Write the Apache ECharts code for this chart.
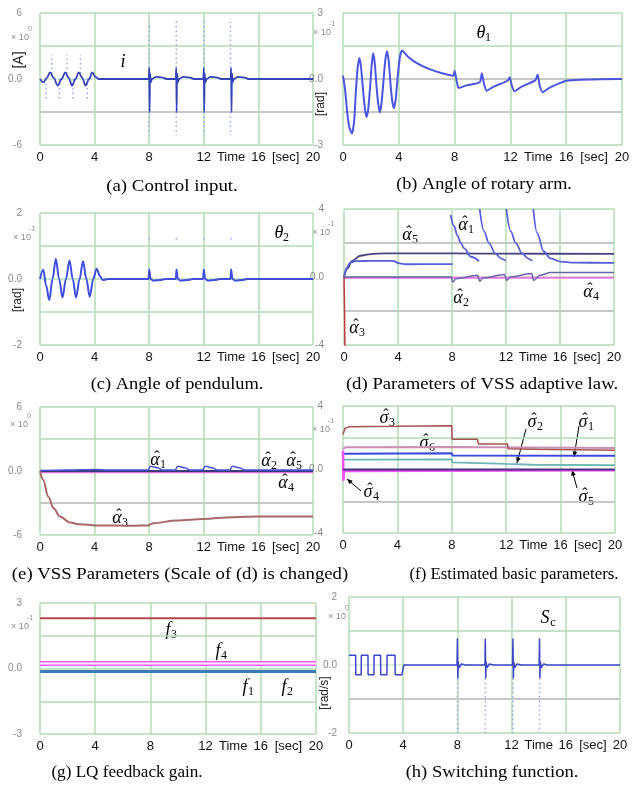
<!DOCTYPE html>
<html>
<head>
<meta charset="utf-8">
<script src="https://cdn.jsdelivr.net/npm/echarts@6/dist/echarts.min.js"></script>
<style>
  html, body { margin: 0; background: #fff; }
  #chart { width: 634px; height: 789px; }
</style>
</head>
<body>
<div id="chart"></div>
<script>
// x ticks (shared by every panel)
const xLabelAt = [0, 4, 8, 12, 14, 16, 18, 20]
const xLabelText = ['0', '4', '8', '12', 'Time', '16', '[sec]', '20']

// y range of each panel (a..h) and the exponent of the "x10" label
const yMax = [6, 3, 2, 4, 6, 4, 3, 2]
const yExp = ['0', '-1', '-1', '-1', '0', '-1', '-1', '0']

// (a) control input i
const iMain = [[0,0],[0.25,-0.3],[0.5,0.1],[0.74,0.6],[1.0,0.1],[1.3,-0.6],[1.58,0],[1.85,0.6],[2.1,0.1],[2.35,-0.6],[2.6,0],[2.84,0.6],[3.1,0.1],[3.33,-0.6],[3.6,0],[3.83,0.6],[4.05,0.2],[4.3,0],
  [7.97,0],[8.0,1.0],[8.03,-3.0],[8.06,0.5],[8.12,-0.3],[8.2,0],[8.5,0.2],[8.9,0.15],[9.3,0],
  [9.95,0],[9.98,1.0],[10.01,-3.0],[10.04,0.5],[10.1,-0.3],[10.18,0],[10.5,0.2],[10.9,0.15],[11.3,0],
  [11.97,0],[12.0,1.0],[12.03,-3.0],[12.06,0.5],[12.12,-0.3],[12.2,0],[12.5,0.2],[12.9,0.15],[13.3,0],
  [13.97,0],[14.0,1.0],[14.03,-3.0],[14.06,0.5],[14.12,-0.3],[14.2,0],[14.5,0.2],[14.9,0.15],[15.3,0],[20,0]]
const iSpikes = [[0.44,0],[0.44,-2.0],[0.44,'-'],[0.86,0.5],[0.86,2.2],[0.86,'-'],[1.43,0],[1.43,-2.0],[1.43,'-'],
  [1.98,0.5],[1.98,2.2],[1.98,'-'],[2.42,0],[2.42,-2.0],[2.42,'-'],[2.96,0.5],[2.96,2.2],[2.96,'-'],[3.46,0],[3.46,-2.0],[3.46,'-'],
  [8,1],[8,5.2],[8,'-'],[8,-3],[8,-5.1],[8,'-'],[9.98,1],[9.98,5.2],[9.98,'-'],[9.98,-3],[9.98,-5.1],[9.98,'-'],
  [12,1],[12,5.2],[12,'-'],[12,-3],[12,-5.1],[12,'-'],[13.95,1],[13.95,5.2],[13.95,'-'],[13.95,-3],[13.95,-5.1]]

// (b) rotary arm angle theta1
const theta1 = [[0,0.15],[0.15,-0.5],[0.3,-1.5],[0.45,-2.2],[0.64,-2.48],[0.8,-1.9],[0.92,-0.6],[1.05,0.5],[1.18,0.96],[1.3,0.5],
  [1.45,-0.6],[1.58,-1.4],[1.7,-1.72],[1.82,-1.3],[1.95,-0.3],[2.05,0.6],[2.16,1.17],[2.28,0.7],[2.4,-0.3],[2.52,-1.1],[2.64,-1.52],
  [2.76,-1.1],[2.9,-0.1],[3.02,0.8],[3.15,1.26],[3.28,0.8],[3.4,-0.2],[3.53,-1.0],[3.65,-1.32],[3.78,-0.9],[3.92,0.1],[4.08,1.0],
  [4.24,1.29],[4.4,1.2],[4.6,1.05],[5.2,0.76],[6.16,0.46],[7.1,0.26],[7.9,0.15],
  [8.0,0.38],[8.15,-0.1],[8.3,-0.41],[8.8,-0.3],[9.8,-0.15],[9.95,0.26],[10.1,-0.2],[10.3,-0.53],[10.8,-0.35],[11.8,-0.08],[11.95,0.08],
  [12.1,-0.3],[12.3,-0.56],[12.8,-0.35],[13.8,-0.05],[13.95,0.2],[14.1,-0.3],[14.3,-0.6],[14.8,-0.4],[15.5,-0.2],[16,-0.08],[17,-0.03],[20,0]]

// (c) pendulum angle theta2
const theta2 = [[0,0],[0.24,0.28],[0.45,-0.2],[0.68,-0.64],[0.92,0],[1.16,0.61],[1.4,0],[1.65,-0.56],[1.9,0],[2.16,0.56],[2.4,0],
  [2.64,-0.56],[2.9,0],[3.15,0.54],[3.4,0],[3.64,-0.54],[3.9,0],[4.15,0.31],[4.4,0.08],[4.6,-0.03],[5,0],
  [7.95,0],[8.0,0.29],[8.1,0],[8.3,-0.05],[8.8,-0.03],[9.2,0],[9.95,0],[10.0,0.29],[10.1,0],[10.3,-0.05],[10.8,-0.03],[11.2,0],
  [11.95,0],[12.0,0.29],[12.1,0],[12.3,-0.05],[12.8,-0.03],[13.2,0],[13.95,0],[14.0,0.29],[14.1,0],[14.3,-0.05],[14.8,-0.03],[15.2,0],[20,0]]
const theta2Dots = [[8,1.22],[10,1.22],[12,1.22],[14,1.22]]

// (d) VSS adaptive law parameters
const alpha5D = [[0,0],[0.25,0.5],[0.6,0.95],[1.2,1.25],[2,1.35],[3,1.39],[8,1.39],[12,1.37],[20,1.36]]
const alpha1D = [[0,0],[0.2,0.55],[0.45,0.85],[0.9,0.93],[2,0.95],[3.6,0.95],[4.1,0.8],[4.6,0.75],[8.05,0.76],[8.05,'-'],
  [7.9,3.65],[8.15,3.0],[8.4,2.44],[8.65,2.0],[8.9,1.68],[9.4,1.19],[10.0,0.93],[10.0,'-'],
  [10.05,4.0],[10.37,2.7],[10.74,1.99],[11.2,1.39],[11.6,1.1],[11.98,0.95],[11.98,'-'],
  [12.02,4.0],[12.35,2.7],[12.72,1.99],[13.2,1.39],[13.6,1.1],[13.95,0.95],[13.95,'-'],
  [14.02,4.0],[14.3,2.6],[14.8,1.5],[15.3,1.1],[16.05,0.9],[17,0.84],[20,0.83]]
const alpha2D = [[0,0],[7.95,0],[8.05,-0.3],[8.3,-0.1],[9.9,0.1],[10.05,-0.25],[10.3,-0.05],[11.9,0.15],[12.05,-0.2],[12.3,0],
  [13.9,0.2],[14.05,-0.2],[14.5,0.1],[15.3,0.26],[20,0.26]]
const alpha4D = [[0,-0.05],[20,-0.05]]
const alpha3D = [[0,0],[0.04,-2],[0.07,-4.5]]

// (e) same parameters, larger scale
const alpha3E = [[0,0],[0.24,-0.84],[0.6,-2.4],[1,-3.5],[1.46,-4.27],[2.2,-4.83],[2.9,-5.0],[4.1,-5.1],[6.8,-5.14],[7.9,-5.1],[8.3,-4.9],
  [10,-4.64],[12,-4.49],[14.1,-4.33],[15.9,-4.27],[20,-4.27]]
const alpha1E = [[0,0.05],[2,0.1],[4,0.15],[5,0.1],[7.9,0.1],[8.1,0.45],[8.6,0.3],[9,0.1],[9.9,0.1],[10.1,0.45],[10.6,0.3],[11,0.1],
  [11.9,0.1],[12.1,0.45],[12.6,0.3],[13,0.1],[13.9,0.1],[14.1,0.45],[14.6,0.3],[15,0.1],[20,0.1]]
const alpha25E = [[0,0],[20,0]]
const alpha4E = [[0,-0.12],[20,-0.12]]

// (f) estimated basic parameters
const sigma3F = [[0,2.2],[0.15,2.6],[0.5,2.7],[4,2.72],[8,2.75],[8.02,1.9],[9.9,1.9],[9.95,1.6],[12.1,1.6],[12.15,1.3],[14,1.28],[14.05,1.22],[20,1.22]]
const sigma6F = [[0,1.3],[0.2,1.4],[8,1.42],[8.02,1.35],[20,1.35]]
const sigma1F = [[0,1.0],[8,1.02],[8.05,0.88],[20,0.86]]
const sigma2F = [[0,0.62],[8,0.64],[8.05,0.45],[12,0.35],[14,0.3],[20,0.28]]
const sigma5F = [[0,0],[20,0]]
const sigma4F = [[0,1.2],[0.03,-0.7],[0.08,-0.1],[0.2,-0.05],[20,-0.05]]

// (g) LQ feedback gains
const f3G = [[0,2.3],[20,2.3]]
const f4G = [[0,0.23],[20,0.23]]
const f1G = [[0,-0.14],[20,-0.14]]
const f2G = [[0,-0.11],[20,-0.11]]

// (h) switching function
const scMain = [[0,0.29],[0.49,0.29],[0.5,-0.29],[0.9,-0.29],[0.91,0.29],[1.4,0.29],[1.41,-0.29],[1.84,-0.29],[1.85,0.29],[2.33,0.29],
  [2.34,-0.29],[2.8,-0.29],[2.81,0.29],[3.4,0.29],[3.41,-0.29],[3.9,-0.29],[4.05,0],
  [7.97,0],[8.0,0.78],[8.03,-0.39],[8.06,0.1],[8.12,-0.08],[8.3,0.03],[8.6,0],
  [10.03,0],[10.06,0.78],[10.09,-0.39],[10.12,0.1],[10.18,-0.08],[10.36,0.03],[10.66,0],
  [12.07,0],[12.1,0.78],[12.13,-0.39],[12.16,0.1],[12.22,-0.08],[12.4,0.03],[12.7,0],
  [14.03,0],[14.06,0.78],[14.09,-0.39],[14.12,0.1],[14.18,-0.08],[14.36,0.03],[14.66,0],[20,0]]
const scSpikes = [[8,-0.39],[8,-2],[8,'-'],[10.06,-0.39],[10.06,-2],[10.06,'-'],[12.1,-0.39],[12.1,-2],[12.1,'-'],[14.06,-0.39],[14.06,-2]]

const G = '#b3dbb3', Y = '#b4b4b4', T = '#d8e8d8'
const BLUE = '#3e4fe0', LIGHT = '#9aa6f2'

// grid boxes in pixels, y split line colours (bottom to top)
const panels = [
  { box: [40, 13, 273, 132], lines: [G, Y, T, G, G], lab: 18 },
  { box: [343, 13, 279, 132], lines: [G, Y, Y, G, G], lab: 20 },
  { box: [40, 213, 273, 132], lines: [G, G, G, G, G], lab: 18 },
  { box: [344, 209, 270, 136], lines: [G, Y, T, Y, G], lab: 20 },
  { box: [40, 407, 273, 128], lines: [G, Y, T, G, G], lab: 18 },
  { box: [343, 406, 272, 127], lines: [G, Y, T, G, G], lab: 20 },
  { box: [40, 603, 276, 131], lines: [G, G, G, G, G], lab: 18 },
  { box: [349, 597, 271, 136], lines: [G, Y, T, G, G], lab: 12 },
]

const grid = [], xAxis = [], yAxis = []
panels.forEach((p, k) => {
  const m = yMax[k]
  grid.push({ left: p.box[0], top: p.box[1], width: p.box[2], height: p.box[3] })
  // axis that carries the labels (every 2 s)
  xAxis.push({
    gridIndex: k, type: 'value', min: 0, max: 20, interval: 2,
    axisLine: { show: false }, axisTick: { show: false }, splitLine: { show: false },
    axisLabel: {
      margin: 6, color: '#111', fontSize: 13, fontFamily: 'Liberation Sans Narrow, Liberation Sans',
      formatter: v => { const j = xLabelAt.indexOf(v); return j < 0 ? '' : xLabelText[j] },
    },
  })
  // axis that carries the grid (every 4 s)
  xAxis.push({
    gridIndex: k, type: 'value', min: 0, max: 20, interval: 4,
    axisLine: { show: false }, axisTick: { show: false }, axisLabel: { show: false },
    splitLine: { show: true, lineStyle: { color: G, width: 1.5 } },
  })
  yAxis.push({
    gridIndex: k, type: 'value', min: -m, max: m, interval: m / 2,
    axisLine: { show: false }, axisTick: { show: false },
    splitLine: { show: true, lineStyle: { color: p.lines, width: 1.5 } },
    axisLabel: {
      margin: p.lab, color: '#8a8a8a', fontSize: 10, fontFamily: 'Liberation Sans',
      formatter: v => v === m ? String(m) : v === 0 ? '0.0' : v === -m ? '-' + m : '',
    },
  })
})

function line(k, data, color, width, extra) {
  return Object.assign({
    type: 'line', xAxisIndex: 2 * k + 1, yAxisIndex: k, data, showSymbol: false, symbol: 'none',
    lineStyle: { color, width }, silent: true, animation: false, clip: true,
  }, extra || {})
}
const smooth = { smooth: 0.35, smoothMonotone: 'x' }
const soft = { smooth: 0.2 }
const dotted = c => ({ lineStyle: { color: c, width: 1.5, type: [1.5, 3] } })

const series = [
  line(0, iSpikes, LIGHT, 1.5, dotted(LIGHT)),
  line(0, iMain, '#3444b8', 1.8, smooth),
  line(1, theta1, '#4a55e0', 2, soft),
  line(2, theta2, BLUE, 2, smooth),
  { type: 'scatter', xAxisIndex: 5, yAxisIndex: 2, data: theta2Dots, symbolSize: 2, itemStyle: { color: LIGHT }, silent: true, animation: false },
  line(3, alpha4D, '#e37ae3', 2),
  line(3, alpha2D, '#6a64a8', 1.5, smooth),
  line(3, alpha3D, '#c03a3a', 1.5),
  line(3, alpha5D, '#45457e', 1.8, smooth),
  line(3, alpha1D, '#5660d8', 1.8, smooth),
  line(4, alpha4E, '#e070e0', 2),
  line(4, alpha25E, '#3a3a78', 2),
  line(4, alpha1E, '#4a56d8', 1.5, smooth),
  line(4, alpha3E, '#a86868', 2, smooth),
  line(5, sigma6F, '#c991b4', 2),
  line(5, sigma3F, '#a85252', 1.5),
  line(5, sigma2F, '#6db5b5', 1.8),
  line(5, sigma1F, '#3a48dc', 2),
  line(5, sigma4F, '#f050f0', 2.5),
  line(5, sigma5F, '#4a2f86', 2),
  line(6, f3G, '#b04a4a', 2),
  line(6, f4G, '#ff5cff', 5),
  line(6, f4G, '#fff0ff', 2),
  line(6, f2G, '#5fb0b0', 2),
  line(6, f1G, '#3f7db8', 3),
  line(7, scSpikes, LIGHT, 1.5, dotted(LIGHT)),
  line(7, scMain, '#3a48c8', 1.5),
]

// ---- texts ----
const SERIF = 'Liberation Serif'
const GRAY = '#8a8a8a'
function txt(x, y, s, font, extra, fill) {
  return Object.assign({ type: 'text', x, y, silent: true,
    style: { text: s, font, fill: fill || '#000', align: 'center', verticalAlign: 'middle' } }, extra || {})
}
// symbol with optional hat and subscript, e.g. alpha-hat_1
function sym(x, y, main, sub, hat, dx) {
  const out = [txt(x, y, main, 'italic 18px ' + SERIF)]
  if (hat) out.push(txt(x + 2, y - 2, '\u02c6', '16px ' + SERIF))
  if (sub) out.push(txt(x + (dx || 8), y + 5, sub, '12px ' + SERIF))
  return out
}
function arrow(x1, y1, x2, y2) {
  const a = Math.atan2(y2 - y1, x2 - x1), h = 6
  return [
    { type: 'line', silent: true, shape: { x1, y1, x2, y2 }, style: { stroke: '#000', lineWidth: 1 } },
    { type: 'polygon', silent: true, shape: { points: [[x2, y2],
      [x2 - h * Math.cos(a - 0.4), y2 - h * Math.sin(a - 0.4)], [x2 - h * Math.cos(a + 0.4), y2 - h * Math.sin(a + 0.4)]] },
      style: { fill: '#000' } },
  ]
}

// caption: centre x, centre y, text, horizontal stretch
const captions = [
  [172, 187, '(a) Control input.', 1.18], [484, 185, '(b) Angle of rotary arm.', 1.14],
  [177, 385, '(c) Angle of pendulum.', 1.15], [482, 385, '(d) Parameters of VSS adaptive law.', 1.17],
  [180, 575, '(e) VSS Parameters (Scale of (d) is changed)', 1.17], [514, 575, '(f) Estimated basic parameters.', 1.05],
  [127, 773, '(g) LQ feedback gain.', 1.07], [492, 773, '(h) Switching function.', 1.16],
]
const x10Pos = [[20, 38], [322, 33], [22, 238], [321, 233], [19, 425], [321, 430], [20, 627], [337, 617]]
const units = [[19, 60, '[A]', 14], [321, 104, '[rad]', 12], [18, 300, '[rad]', 12], [325, 693, '[rad/s]', 12]]

let graphic = []
captions.forEach(c => graphic.push(txt(c[0], c[1], c[2], '16px ' + SERIF, { scaleX: c[3] })))
x10Pos.forEach((p, k) => {
  graphic.push(txt(p[0], p[1], '\u00d7 10', '9px Liberation Sans', null, GRAY))
  graphic.push(txt(p[0] + 10, p[1] - 9, yExp[k], '7px Liberation Sans', null, GRAY))
})
units.forEach(u => graphic.push(txt(u[0], u[1], u[2], u[3] + 'px Liberation Sans', { rotation: Math.PI / 2 }, '#222')))

const A = '\u03b1', S = '\u03c3'
graphic = graphic.concat(
  sym(123, 62, 'i'),
  sym(481, 33, '\u03b8', '1', false, 7),
  sym(279, 233, '\u03b8', '2', false, 7),
  sym(407, 235, A, '5', true), sym(463, 225, A, '1', true), sym(458, 298, A, '2', true), sym(588, 292, A, '4', true), sym(354, 328, A, '3', true),
  sym(155, 460, A, '1', true), sym(266, 461, A, '2', true), sym(291, 461, A, '5', true), sym(283, 483, A, '4', true), sym(117, 518, A, '3', true),
  sym(384, 418, S, '3', true), sym(424, 443, S, '6', true), sym(532, 422, S, '2', true), sym(583, 422, S, '1', true), sym(368, 492, S, '4', true), sym(583, 497, S, '5', true),
  arrow(526, 429, 517, 463), arrow(579, 426, 574, 457), arrow(577, 488, 572, 470), arrow(361, 491, 347, 479),
  sym(168, 630, 'f', '3', false, 6), sym(218, 651, 'f', '4', false, 6), sym(245, 687, 'f', '1', false, 6), sym(284, 687, 'f', '2', false, 6),
  sym(545, 618, 'S', 'c', false, 8)
)

const chart = echarts.init(document.getElementById('chart'), null, { renderer: 'canvas' })
chart.setOption({ backgroundColor: '#fff', animation: false, grid, xAxis, yAxis, series, graphic })
</script>
</body>
</html>
